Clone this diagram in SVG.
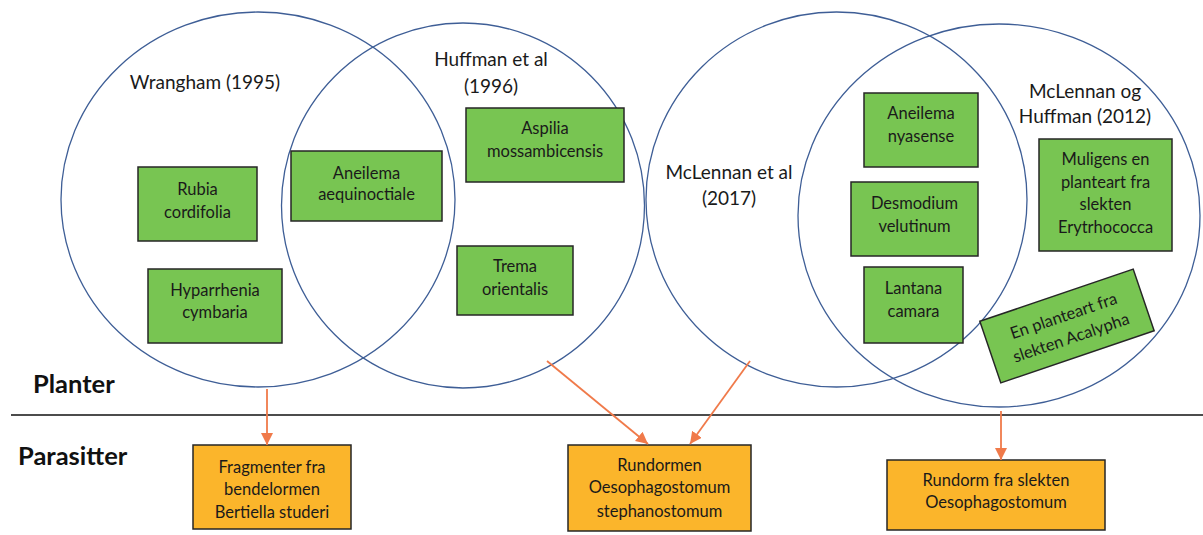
<svg xmlns="http://www.w3.org/2000/svg" width="1203" height="535" viewBox="0 0 1203 535">
<defs>
<style>
.set{fill:none;stroke:#3E5E96;stroke-width:1.3}
.title{font-family:Lato,"Liberation Sans",sans-serif;font-size:19px;fill:#1a1a1a;text-anchor:middle}
.lbl{font-family:Lato,"Liberation Sans",sans-serif;font-size:16.5px;fill:#1a1a1a;text-anchor:middle}
.plant{fill:#78C552;stroke:#262626;stroke-width:1.5}
.para{fill:#FBB52B;stroke:#262626;stroke-width:1.5}
.sec{font-family:Lato,"Liberation Sans",sans-serif;font-size:25.5px;font-weight:bold;fill:#111}
.conn{stroke:#F07A4A;stroke-width:1.8;fill:none;marker-end:url(#ah)}
</style>
<marker id="ah" viewBox="0 0 10 10" refX="10" refY="5" markerWidth="12" markerHeight="12" markerUnits="userSpaceOnUse" orient="auto">
<path d="M0,0 L10,5 L0,10 z" fill="#F07A4A"/>
</marker>
</defs>
<rect width="1203" height="535" fill="#fff"/>

<g id="sets">
<ellipse class="set" cx="258" cy="199.5" rx="197" ry="187.5"/>
<ellipse class="set" cx="463" cy="205.5" rx="181.5" ry="182.5"/>
<ellipse class="set" cx="836.5" cy="199.5" rx="190.5" ry="187.5"/>
<ellipse class="set" cx="999" cy="215.5" rx="201" ry="191.5"/>
<text class="title" x="205" y="89">Wrangham (1995)</text>
<text class="title" x="491" y="66">Huffman et al</text>
<text class="title" x="491" y="93">(1996)</text>
<text class="title" x="729" y="179">McLennan et al</text>
<text class="title" x="729" y="205">(2017)</text>
<text class="title" x="1085" y="98">McLennan og</text>
<text class="title" x="1085" y="123">Huffman (2012)</text>
</g>

<line x1="11" y1="415" x2="1203" y2="415" stroke="#111" stroke-width="1.3"/>
<text class="sec" x="33" y="393">Planter</text>
<text class="sec" x="18" y="465">Parasitter</text>

<g id="n-rubia"><rect class="plant" x="138" y="167" width="119" height="74"/>
<text class="lbl" x="197.5" y="195">Rubia</text><text class="lbl" x="197.5" y="218">cordifolia</text></g>
<g id="n-hyparrhenia"><rect class="plant" x="148" y="269" width="134" height="74"/>
<text class="lbl" x="215" y="296">Hyparrhenia</text><text class="lbl" x="215" y="318">cymbaria</text></g>
<g id="n-aneilema-aeq"><rect class="plant" x="291" y="151" width="151" height="70"/>
<text class="lbl" x="366.5" y="179">Aneilema</text><text class="lbl" x="366.5" y="200">aequinoctiale</text></g>
<g id="n-aspilia"><rect class="plant" x="466" y="108" width="158" height="74"/>
<text class="lbl" x="545" y="134">Aspilia</text><text class="lbl" x="545" y="157">mossambicensis</text></g>
<g id="n-trema"><rect class="plant" x="457" y="246" width="116" height="69"/>
<text class="lbl" x="515" y="272">Trema</text><text class="lbl" x="515" y="295">orientalis</text></g>
<g id="n-aneilema-nya"><rect class="plant" x="864" y="93" width="114" height="74"/>
<text class="lbl" x="921" y="119">Aneilema</text><text class="lbl" x="921" y="142">nyasense</text></g>
<g id="n-desmodium"><rect class="plant" x="851" y="182" width="127" height="74"/>
<text class="lbl" x="914.5" y="209">Desmodium</text><text class="lbl" x="914.5" y="232">velutinum</text></g>
<g id="n-lantana"><rect class="plant" x="864" y="267" width="99" height="76"/>
<text class="lbl" x="913.5" y="294">Lantana</text><text class="lbl" x="913.5" y="317">camara</text></g>
<g id="n-erytrhococca"><rect class="plant" x="1039" y="139" width="133" height="112"/>
<text class="lbl" x="1105.5" y="165">Muligens en</text><text class="lbl" x="1105.5" y="188">planteart fra</text>
<text class="lbl" x="1105.5" y="210">slekten</text><text class="lbl" x="1105.5" y="233">Erytrhococca</text></g>
<g id="n-acalypha" transform="translate(1067,326) rotate(-18.8)"><rect class="plant" x="-81" y="-32.5" width="162" height="65"/>
<text class="lbl" x="0" y="-5">En planteart fra</text><text class="lbl" x="0" y="18">slekten Acalypha</text></g>

<g id="n-bertiella"><rect class="para" x="193" y="445" width="158" height="84"/>
<text class="lbl" x="272" y="473">Fragmenter fra</text><text class="lbl" x="272" y="495">bendelormen</text><text class="lbl" x="272" y="518">Bertiella studeri</text></g>
<g id="n-oeso-steph"><rect class="para" x="568" y="445" width="183" height="86"/>
<text class="lbl" x="659.5" y="471">Rundormen</text><text class="lbl" x="659.5" y="493">Oesophagostomum</text><text class="lbl" x="659.5" y="517">stephanostomum</text></g>
<g id="n-oeso"><rect class="para" x="887" y="460" width="218" height="70"/>
<text class="lbl" x="996" y="486">Rundorm fra slekten</text><text class="lbl" x="996" y="508">Oesophagostomum</text></g>

<g id="connectors">
<line class="conn" x1="267" y1="389" x2="267" y2="445"/>
<line class="conn" x1="547" y1="361" x2="648" y2="444"/>
<line class="conn" x1="750" y1="361" x2="690" y2="444"/>
<line class="conn" x1="1001" y1="411" x2="1001" y2="460"/>
</g>
</svg>
